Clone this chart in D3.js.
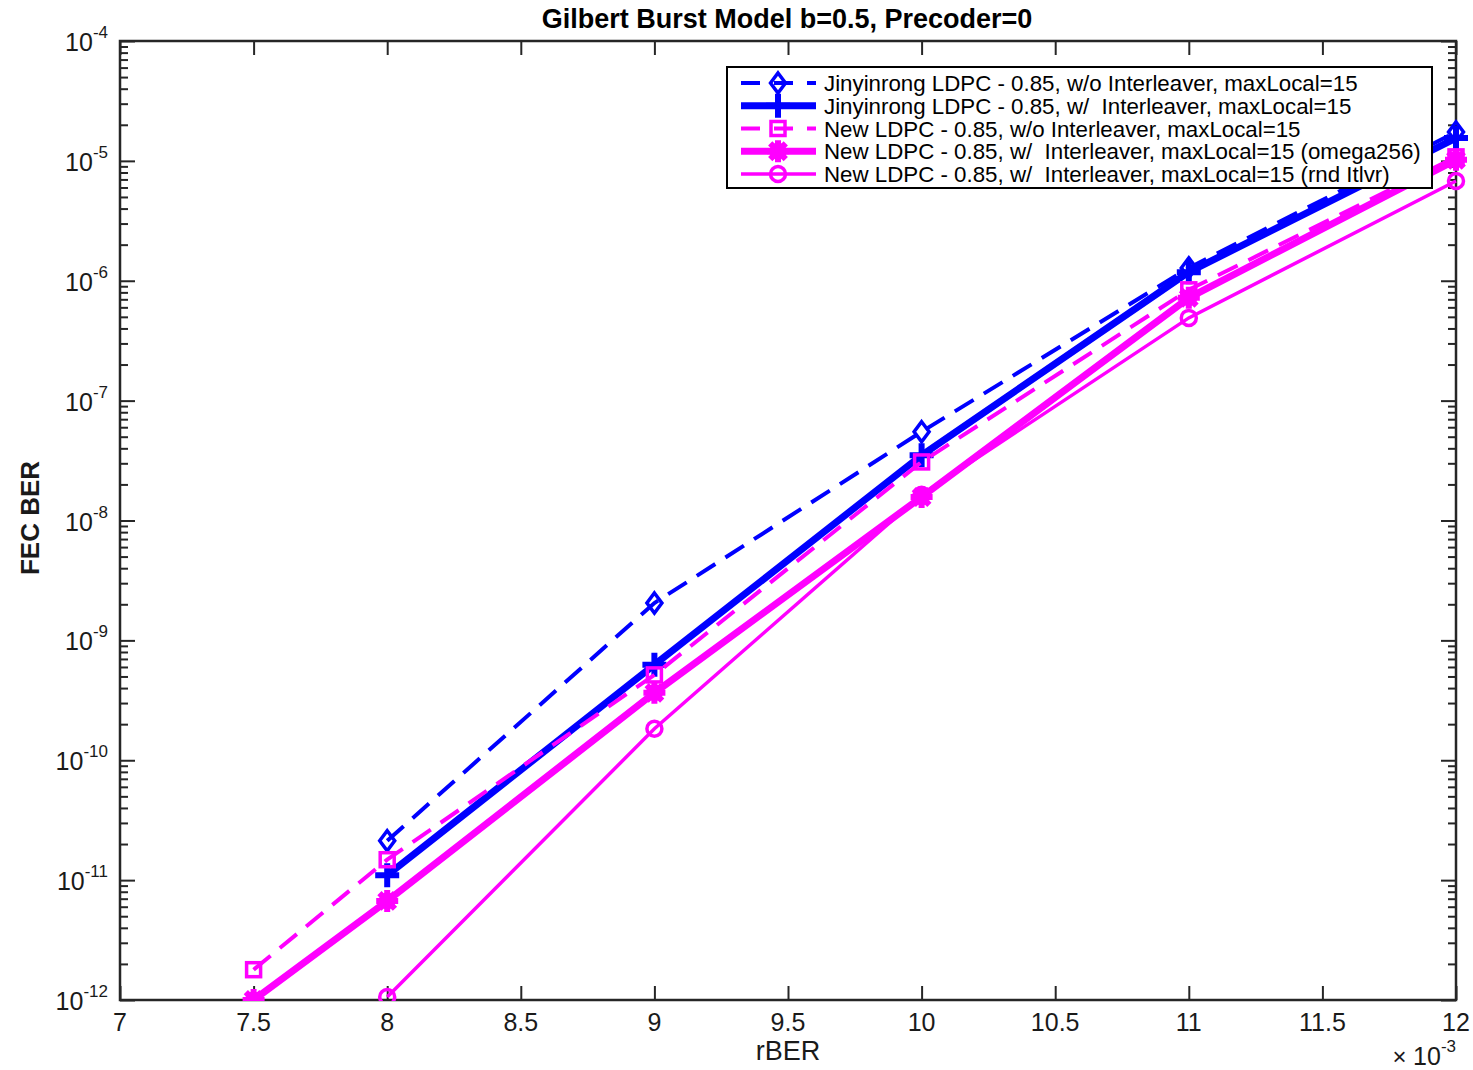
<!DOCTYPE html>
<html>
<head>
<meta charset="utf-8">
<script src="https://cdn.jsdelivr.net/npm/d3@7"></script>
<style>
  html, body { margin: 0; padding: 0; background: #fff; }
  svg { display: block; font-family: "Liberation Sans", Arial, sans-serif; }
</style>
</head>
<body>
<svg id="chart" width="1473" height="1070"></svg>
<script>
// rBER values (×10^-3)
const rber = [7.5, 8, 9, 10, 11, 12];

// FEC BER per configuration (null = not measured)
const jinNoIlv   = [null, 2.13e-11, 2.05e-9, 5.5e-8, 1.28e-6, 1.74e-5];
const jinIlv     = [null, 1.1e-11, 6.25e-10, 3.5e-8, 1.18e-6, 1.55e-5];
const newNoIlv   = [1.79e-12, 1.48e-11, 5.15e-10, 3.08e-8, 8.4e-7, 1.08e-5];
const newOmega   = [1.0e-12, 6.7e-12, 3.65e-10, 1.57e-8, 7.2e-7, 1.02e-5];
const newRndIlv  = [null, 1.06e-12, 1.83e-10, 1.64e-8, 4.9e-7, 6.8e-6];

const seriesNames = [
  "Jinyinrong LDPC - 0.85, w/o Interleaver, maxLocal=15",
  "Jinyinrong LDPC - 0.85, w/  Interleaver, maxLocal=15",
  "New LDPC - 0.85, w/o Interleaver, maxLocal=15",
  "New LDPC - 0.85, w/  Interleaver, maxLocal=15 (omega256)",
  "New LDPC - 0.85, w/  Interleaver, maxLocal=15 (rnd Itlvr)"
];

const xTicks = [7, 7.5, 8, 8.5, 9, 9.5, 10, 10.5, 11, 11.5, 12];
const yExponents = [-4, -5, -6, -7, -8, -9, -10, -11, -12];

const titleText = "Gilbert Burst Model b=0.5, Precoder=0";
const xLabel = "rBER";
const yLabel = "FEC BER";

// ---- styling of each series ----
const BLUE = "#0000ff", MAG = "#ff00ff";
const series = [
  { values: jinNoIlv,  color: BLUE, width: 4,   dash: "22,12", marker: "diamond" },
  { values: jinIlv,    color: BLUE, width: 7,   dash: null,    marker: "plus" },
  { values: newNoIlv,  color: MAG,  width: 4,   dash: "22,12", marker: "square" },
  { values: newOmega,  color: MAG,  width: 7,   dash: null,    marker: "asterisk" },
  { values: newRndIlv, color: MAG,  width: 3.5, dash: null,    marker: "circle" }
].map((s, i) => ({ ...s, name: seriesNames[i] }));

const svg = d3.select("#chart");
const plotL = 120, plotR = 1456, plotT = 41, plotB = 1000;
const axisColor = "#262626";

const x = d3.scaleLinear().domain([7, 12]).range([plotL, plotR]);
const y = d3.scaleLog().domain([1e-12, 1e-4]).range([plotB, plotT]);

// clip region for the data
svg.append("defs").append("clipPath").attr("id", "plotClip")
  .append("rect").attr("x", plotL).attr("y", plotT - 10)
  .attr("width", plotR - plotL + 12).attr("height", plotB - plotT + 11);

// ---- axes frame and ticks ----
const frame = svg.append("g");

// minor log ticks (2..9 of each decade), left and right
const minor = [];
for (let e = -12; e < -4; e++) for (let m = 2; m <= 9; m++) minor.push(m * Math.pow(10, e));

const gLeft = frame.append("g").attr("transform", `translate(${plotL},0)`)
  .call(d3.axisRight(y).tickValues(minor).tickSize(8).tickFormat(""));
const gRight = frame.append("g").attr("transform", `translate(${plotR},0)`)
  .call(d3.axisLeft(y).tickValues(minor).tickSize(8).tickFormat(""));
const majors = yExponents.map(e => Math.pow(10, e));
const gLeftMaj = frame.append("g").attr("transform", `translate(${plotL},0)`)
  .call(d3.axisRight(y).tickValues(majors).tickSize(15).tickFormat(""));
const gRightMaj = frame.append("g").attr("transform", `translate(${plotR},0)`)
  .call(d3.axisLeft(y).tickValues(majors).tickSize(15).tickFormat(""));
const gBottom = frame.append("g").attr("transform", `translate(0,${plotB})`)
  .call(d3.axisTop(x).tickValues(xTicks).tickSize(14).tickFormat(""));
const gTop = frame.append("g").attr("transform", `translate(0,${plotT})`)
  .call(d3.axisBottom(x).tickValues(xTicks).tickSize(14).tickFormat(""));

[gLeft, gRight, gLeftMaj, gRightMaj, gBottom, gTop].forEach(g => {
  g.select(".domain").remove();
  g.selectAll(".tick line").attr("stroke", axisColor).attr("stroke-width", 2);
});

frame.append("rect")
  .attr("x", plotL).attr("y", plotT)
  .attr("width", plotR - plotL).attr("height", plotB - plotT)
  .attr("fill", "none").attr("stroke", axisColor).attr("stroke-width", 2.5);

// x tick labels
frame.append("g").selectAll("text").data(xTicks).join("text")
  .attr("x", d => x(d)).attr("y", plotB + 31)
  .attr("text-anchor", "middle")
  .attr("font-size", 25).attr("fill", "#1a1a1a")
  .text(d => d);

// y tick labels: 10^e
const yl = frame.append("g").selectAll("text").data(yExponents).join("text")
  .attr("x", plotL - 12).attr("y", d => y(Math.pow(10, d)) + 10)
  .attr("text-anchor", "end")
  .attr("font-size", 25).attr("fill", "#1a1a1a");
yl.append("tspan").text("10");
yl.append("tspan").attr("dy", -13).attr("font-size", 17).text(d => "-" + Math.abs(d));

// exponent multiplier under the x axis
const mult = frame.append("text")
  .attr("x", plotR).attr("y", 1065)
  .attr("text-anchor", "end").attr("font-size", 25).attr("fill", "#1a1a1a");
mult.append("tspan").attr("font-size", 24).text("× ");
mult.append("tspan").text("10");
mult.append("tspan").attr("dy", -13).attr("font-size", 17).text("-3");

// title and axis labels
svg.append("text").attr("x", 787).attr("y", 28)
  .attr("text-anchor", "middle").attr("font-size", 27).attr("font-weight", "bold")
  .attr("fill", "#000").text(titleText);
svg.append("text").attr("x", 788).attr("y", 1060)
  .attr("text-anchor", "middle").attr("font-size", 27).attr("fill", "#1a1a1a").text(xLabel);
svg.append("text").attr("transform", `translate(39,${518}) rotate(-90)`)
  .attr("text-anchor", "middle").attr("font-size", 26).attr("font-weight", "bold")
  .attr("fill", "#1a1a1a").text(yLabel);

// ---- markers ----
function drawMarker(g, type, cx, cy, color) {
  switch (type) {
    case "diamond":
      g.append("path")
        .attr("d", `M${cx},${cy - 10} L${cx + 7.5},${cy} L${cx},${cy + 10} L${cx - 7.5},${cy} Z`)
        .attr("fill", "none").attr("stroke", color).attr("stroke-width", 3.5);
      break;
    case "plus":
      g.append("path")
        .attr("d", `M${cx - 12},${cy} H${cx + 12} M${cx},${cy - 12} V${cy + 12}`)
        .attr("stroke", color).attr("stroke-width", 6).attr("fill", "none");
      break;
    case "square":
      g.append("rect").attr("x", cx - 7).attr("y", cy - 7).attr("width", 14).attr("height", 14)
        .attr("fill", "none").attr("stroke", color).attr("stroke-width", 3.5);
      break;
    case "asterisk": {
      let d = "";
      for (let k = 0; k < 4; k++) {
        const a = k * Math.PI / 4;
        const dx = 11 * Math.cos(a), dy = 11 * Math.sin(a);
        d += `M${cx - dx},${cy - dy} L${cx + dx},${cy + dy} `;
      }
      g.append("path").attr("d", d).attr("stroke", color).attr("stroke-width", 6).attr("fill", "none");
      g.append("circle").attr("cx", cx).attr("cy", cy).attr("r", 8.5).attr("fill", color);
      break;
    }
    case "circle":
      g.append("circle").attr("cx", cx).attr("cy", cy).attr("r", 7.5)
        .attr("fill", "none").attr("stroke", color).attr("stroke-width", 3.5);
      break;
  }
}

// ---- data lines ----
const plot = svg.append("g").attr("clip-path", "url(#plotClip)");
const line = d3.line()
  .defined(d => d.v != null)
  .x(d => x(d.r)).y(d => y(d.v));

series.forEach(s => {
  const pts = rber.map((r, i) => ({ r, v: s.values[i] }));
  const g = plot.append("g");
  g.append("path").datum(pts)
    .attr("d", line)
    .attr("fill", "none").attr("stroke", s.color)
    .attr("stroke-width", s.width)
    .attr("stroke-dasharray", s.dash)
    .attr("stroke-linejoin", "miter");
  pts.filter(p => p.v != null).forEach(p => drawMarker(g, s.marker, x(p.r), y(p.v), s.color));
});

// ---- legend ----
const lg = svg.append("g");
lg.append("rect").attr("x", 727).attr("y", 67).attr("width", 705).attr("height", 121)
  .attr("fill", "#fff").attr("stroke", "#000").attr("stroke-width", 2);
series.forEach((s, i) => {
  const yy = 83 + i * 22.75;
  lg.append("line").attr("x1", 741).attr("x2", 816).attr("y1", yy).attr("y2", yy)
    .attr("stroke", s.color).attr("stroke-width", s.width)
    .attr("stroke-dasharray", s.dash ? "19,14" : null);
  drawMarker(lg, s.marker, 778, yy, s.color);
  lg.append("text").attr("x", 824).attr("y", yy + 8)
    .attr("font-size", 22.3).attr("fill", "#000")
    .attr("xml:space", "preserve").style("white-space", "pre")
    .text(s.name);
});
</script>
</body>
</html>
